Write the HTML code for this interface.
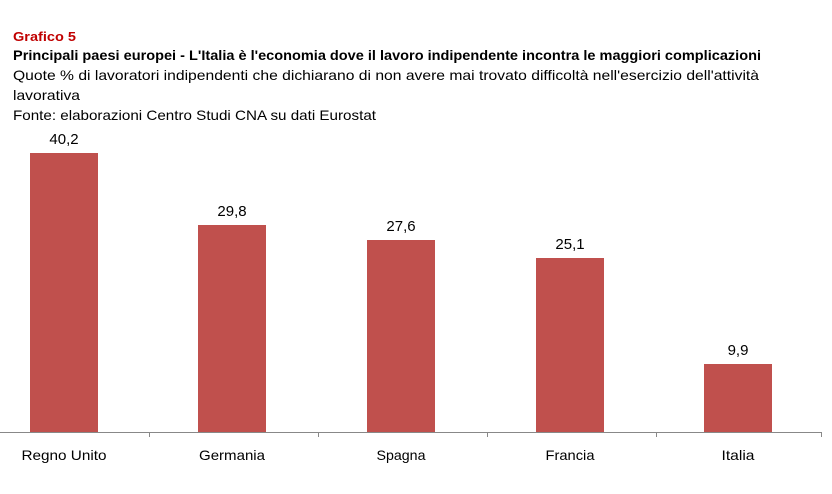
<!DOCTYPE html>
<html><head><meta charset="utf-8"><style>
html,body{margin:0;padding:0;background:#fff;}
svg{display:block;font-family:"Liberation Sans",sans-serif;}
</style></head><body>
<svg width="832" height="494" viewBox="0 0 832 494" xmlns="http://www.w3.org/2000/svg">
<text x="13" y="41" font-size="13" font-weight="bold" fill="#C00000" textLength="63" lengthAdjust="spacingAndGlyphs">Grafico 5</text>
<text x="13" y="60" font-size="14" font-weight="bold" fill="#000" textLength="748" lengthAdjust="spacingAndGlyphs">Principali paesi europei - L'Italia è l'economia dove il lavoro indipendente incontra le maggiori complicazioni</text>
<text x="13" y="80" font-size="14" fill="#000" textLength="746" lengthAdjust="spacingAndGlyphs">Quote % di lavoratori indipendenti che dichiarano di non avere mai trovato difficoltà nell'esercizio dell'attività</text>
<text x="13" y="100" font-size="14" fill="#000" textLength="67" lengthAdjust="spacingAndGlyphs">lavorativa</text>
<text x="13" y="120" font-size="14" fill="#000" textLength="363" lengthAdjust="spacingAndGlyphs">Fonte: elaborazioni Centro Studi CNA su dati Eurostat</text>
<g fill="#C0504D">
<rect x="30" y="153" width="68" height="279"/>
<rect x="198" y="225" width="68" height="207"/>
<rect x="367" y="240" width="68" height="192"/>
<rect x="536" y="258" width="68" height="174"/>
<rect x="704" y="364" width="68" height="68"/>
</g>
<g font-size="15" fill="#000" text-anchor="middle">
<text x="64" y="144">40,2</text>
<text x="232" y="216">29,8</text>
<text x="401" y="231">27,6</text>
<text x="570" y="249">25,1</text>
<text x="738" y="355">9,9</text>
</g>
<line x1="0" y1="432.5" x2="822" y2="432.5" stroke="#888" stroke-width="1"/>
<g stroke="#888" stroke-width="1">
<line x1="149.5" y1="432" x2="149.5" y2="437"/>
<line x1="318.5" y1="432" x2="318.5" y2="437"/>
<line x1="487.5" y1="432" x2="487.5" y2="437"/>
<line x1="656.5" y1="432" x2="656.5" y2="437"/>
<line x1="821.5" y1="432" x2="821.5" y2="437"/>
</g>
<g font-size="14" fill="#000" text-anchor="middle">
<text x="64" y="460" textLength="85" lengthAdjust="spacingAndGlyphs">Regno Unito</text>
<text x="232" y="460" textLength="66" lengthAdjust="spacingAndGlyphs">Germania</text>
<text x="401" y="460" textLength="49" lengthAdjust="spacingAndGlyphs">Spagna</text>
<text x="570" y="460" textLength="49" lengthAdjust="spacingAndGlyphs">Francia</text>
<text x="738" y="460" textLength="33" lengthAdjust="spacingAndGlyphs">Italia</text>
</g>
</svg>
</body></html>
